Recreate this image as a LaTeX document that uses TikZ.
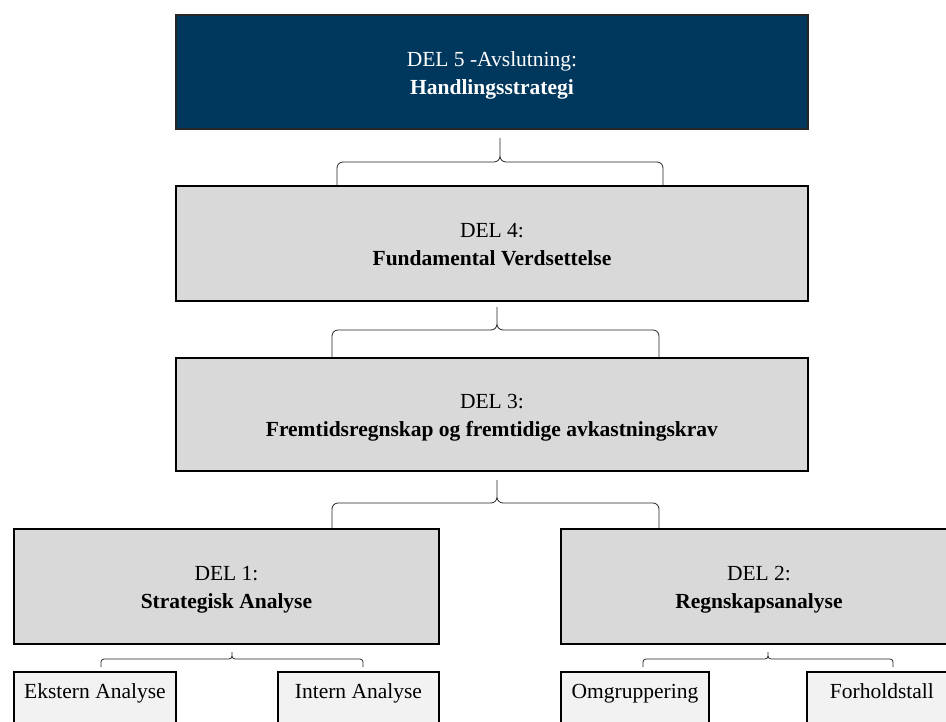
\documentclass[tikz,border=0pt]{standalone}
\usepackage{fontspec}
\setmainfont{Liberation Serif}
\usetikzlibrary{calc}
\definecolor{navy}{RGB}{0,56,93}
\definecolor{boxgray}{RGB}{217,217,217}
\definecolor{subgray}{RGB}{242,242,242}
\newcommand\Brace[5]{%
 \draw[bracestyle] let \p1=(#1), \p2=(#2), \p3=(#3), \p4=($(#1)+(0,#4)$) in
 (\p2) -- (\x2,\y4-#5pt) .. controls (\x2,\y4-0.45*#5pt) and (\x2+0.45*#5pt,\y4) .. (\x2+#5pt,\y4)
 -- (\x1-#5pt,\y4) .. controls (\x1-0.45*#5pt,\y4) and (\x1,\y4+0.45*#5pt) .. (\x1,\y4+#5pt)
 -- (\p1) -- (\x1,\y4+#5pt) .. controls (\x1,\y4+0.45*#5pt) and (\x1+0.45*#5pt,\y4) .. (\x1+#5pt,\y4)
 -- (\x3-#5pt,\y4) .. controls (\x3-0.45*#5pt,\y4) and (\x3,\y4-0.45*#5pt) .. (\x3,\y4-#5pt) -- (\p3);}
\begin{document}
\begin{tikzpicture}[x=1pt,y=-1pt,
 mainbox/.style={draw=black, line width=1.9pt, fill=boxgray, anchor=north west, inner sep=0pt},
 topbox/.style={mainbox, fill=navy, draw=black!85},
 subbox/.style={mainbox, fill=subgray},
 lbl/.style={font=\fontsize{21.5}{28}\selectfont, anchor=base, inner sep=0pt},
 lblb/.style={font=\fontsize{21.5}{28}\selectfont\bfseries, anchor=base, inner sep=0pt},
 bracestyle/.style={draw=black!85, line width=0.8pt}]
\useasboundingbox (0,0) rectangle (946,722);
\clip (0,0) rectangle (946,722);
% main boxes
\node[topbox, minimum width=632pt, minimum height=114pt] (d5) at (175,14) {};
\node[mainbox, minimum width=632pt, minimum height=115pt] (d4) at (175,185) {};
\node[mainbox, minimum width=632pt, minimum height=113pt] (d3) at (175,357) {};
\node[mainbox, minimum width=425pt, minimum height=115pt] (d1) at (13,528) {};
\node[mainbox, minimum width=396pt, minimum height=115pt] (d2) at (560,528) {};
% sub boxes
\node[subbox, minimum width=162pt, minimum height=64pt] (ek) at (13,671) {};
\node[subbox, minimum width=161pt, minimum height=64pt] (in) at (277,671) {};
\node[subbox, minimum width=148pt, minimum height=64pt] (om) at (560,671) {};
\node[subbox, minimum width=150pt, minimum height=64pt] (fo) at (806,671) {};
% texts
\node[lbl, text=white] (d5a) at ($(d5.center)+(0,-5.5)$) {DEL 5 -Avslutning:};
\node[lblb, text=white] (d5b) at ($(d5.center)+(0,22.5)$) {Handlingsstrategi};
\node[lbl] (d4a) at ($(d4.center)+(0,-5.5)$) {DEL 4:};
\node[lblb] (d4b) at ($(d4.center)+(0,22.5)$) {Fundamental Verdsettelse};
\node[lbl] (d3a) at ($(d3.center)+(0,-5.5)$) {DEL 3:};
\node[lblb] (d3b) at ($(d3.center)+(0,22.5)$) {Fremtidsregnskap og fremtidige avkastningskrav};
\node[lbl] (d1a) at ($(d1.center)+(0,-5.5)$) {DEL 1:};
\node[lblb] (d1b) at ($(d1.center)+(0,22.5)$) {Strategisk Analyse};
\node[lbl] (d2a) at ($(d2.center)+(0,-5.5)$) {DEL 2:};
\node[lblb] (d2b) at ($(d2.center)+(0,22.5)$) {Regnskapsanalyse};
\node[lbl] (ekt) at ($(ek.north)+(0,27)$) {Ekstern Analyse};
\node[lbl] (int) at ($(in.north)+(0,27)$) {Intern Analyse};
\node[lbl] (omt) at ($(om.north)+(0,27)$) {Omgruppering};
\node[lbl] (fot) at ($(fo.north)+(0,27)$) {Forholdstall};
% brace coordinates
\coordinate (b1t) at (500,138); \coordinate (b1l) at (d4.north -| 337,0); \coordinate (b1r) at (d4.north -| 663,0);
\coordinate (b2t) at (497,307); \coordinate (b2l) at (d3.north -| 332,0); \coordinate (b2r) at (d3.north -| 659,0);
\coordinate (b3t) at (497,480); \coordinate (b3l) at (d1.north -| 332,0); \coordinate (b3r) at (d1.north -| 659,0);
\coordinate (s1t) at (232,652); \coordinate (s1l) at (101,667); \coordinate (s1r) at (363,667);
\coordinate (s2t) at (768,652); \coordinate (s2l) at (643,667); \coordinate (s2r) at (893,667);
\Brace{b1t}{b1l}{b1r}{24}{6}
\Brace{b2t}{b2l}{b2r}{23}{6}
\Brace{b3t}{b3l}{b3r}{23}{6}
\Brace{s1t}{s1l}{s1r}{7}{3}
\Brace{s2t}{s2l}{s2r}{7}{3}
\end{tikzpicture}
\end{document}
